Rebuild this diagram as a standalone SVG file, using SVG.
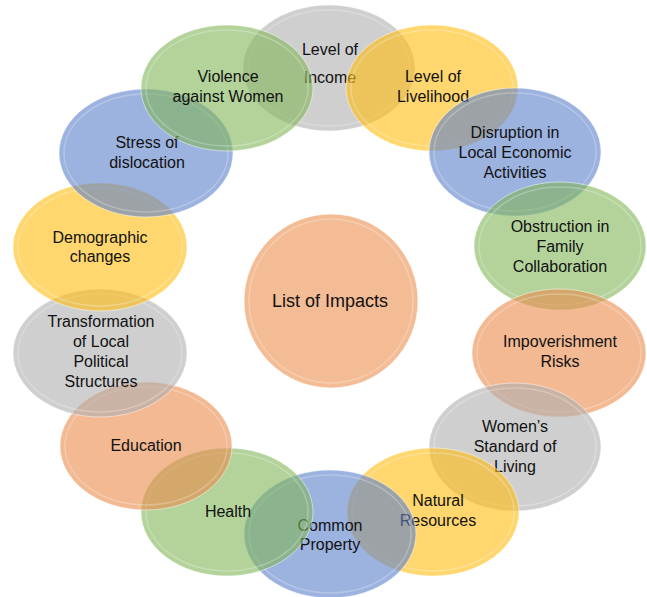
<svg xmlns="http://www.w3.org/2000/svg" width="647" height="597" viewBox="0 0 647 597">
<style>
  .e { fill-opacity: 0.6; stroke: #ffffff; stroke-opacity: 0.5; stroke-width: 1; }
  .hl { fill: none; stroke: #ffffff; stroke-opacity: 0.25; stroke-width: 1.5; }
  .gray { fill: #afafaf; }
  .yellow { fill: #ffbc0d; }
  .green { fill: #80b658; }
  .blue { fill: #5a7fca; }
  .orange { fill: #e98a4b; }
  text { font-family: "Liberation Sans", Arial, sans-serif; font-size: 16px; fill: #111111; text-anchor: middle; }
  .big { font-size: 18px; }
</style>
<rect width="647" height="597" fill="#ffffff"/>

<g id="center">
  <circle cx="331" cy="301" r="87" fill="#f3bc95" stroke="#ffffff" stroke-opacity="0.6" stroke-width="1"/>
  <circle cx="331" cy="301" r="82" class="hl"/>
  <text class="big" x="330" y="307">List of Impacts</text>
</g>

<g id="level-of-income">
  <ellipse class="e gray" cx="329" cy="68" rx="86" ry="63"/>
  <ellipse class="hl" cx="329" cy="68" rx="81" ry="58"/>
  <text x="330" y="55">Level of</text>
  <text x="330" y="83">Income</text>
</g>
<g id="level-of-livelihood">
  <ellipse class="e yellow" cx="432" cy="88" rx="86" ry="63"/>
  <ellipse class="hl" cx="432" cy="88" rx="81" ry="58"/>
  <text x="433" y="82">Level of</text>
  <text x="433" y="102">Livelihood</text>
</g>
<g id="disruption">
  <ellipse class="e blue" cx="515" cy="152" rx="86" ry="64"/>
  <ellipse class="hl" cx="515" cy="152" rx="81" ry="59"/>
  <text x="515" y="138">Disruption in</text>
  <text x="515" y="158">Local Economic</text>
  <text x="515" y="178">Activities</text>
</g>
<g id="obstruction">
  <ellipse class="e green" cx="560" cy="246" rx="86" ry="64"/>
  <ellipse class="hl" cx="560" cy="246" rx="81" ry="59"/>
  <text x="560" y="232">Obstruction in</text>
  <text x="560" y="252">Family</text>
  <text x="560" y="272">Collaboration</text>
</g>
<g id="impoverishment">
  <ellipse class="e orange" cx="559" cy="353" rx="87" ry="64"/>
  <ellipse class="hl" cx="559" cy="353" rx="82" ry="59"/>
  <text x="560" y="347">Impoverishment</text>
  <text x="560" y="367">Risks</text>
</g>
<g id="womens-standard">
  <ellipse class="e gray" cx="515" cy="447" rx="86" ry="64"/>
  <ellipse class="hl" cx="515" cy="447" rx="81" ry="59"/>
  <text x="515" y="432">Women’s</text>
  <text x="515" y="452">Standard of</text>
  <text x="515" y="472">Living</text>
</g>
<g id="natural-resources">
  <ellipse class="e yellow" cx="433" cy="512" rx="86" ry="64"/>
  <ellipse class="hl" cx="433" cy="512" rx="81" ry="59"/>
  <text x="438" y="506">Natural</text>
  <text x="438" y="526">Resources</text>
</g>
<g id="common-property">
  <ellipse class="e blue" cx="330" cy="534" rx="86" ry="64"/>
  <ellipse class="hl" cx="330" cy="534" rx="81" ry="59"/>
  <text x="330" y="531">Common</text>
  <text x="330" y="550">Property</text>
</g>
<g id="health">
  <ellipse class="e green" cx="227" cy="512" rx="86" ry="64"/>
  <ellipse class="hl" cx="227" cy="512" rx="81" ry="59"/>
  <text x="228" y="517">Health</text>
</g>
<g id="education">
  <ellipse class="e orange" cx="146" cy="446" rx="86" ry="64"/>
  <ellipse class="hl" cx="146" cy="446" rx="81" ry="59"/>
  <text x="146" y="451">Education</text>
</g>
<g id="transformation">
  <ellipse class="e gray" cx="100" cy="353" rx="87" ry="64"/>
  <ellipse class="hl" cx="100" cy="353" rx="82" ry="59"/>
  <text x="101" y="327">Transformation</text>
  <text x="101" y="347">of Local</text>
  <text x="101" y="367">Political</text>
  <text x="101" y="387">Structures</text>
</g>
<g id="demographic">
  <ellipse class="e yellow" cx="100" cy="247" rx="87" ry="64"/>
  <ellipse class="hl" cx="100" cy="247" rx="82" ry="59"/>
  <text x="100" y="243">Demographic</text>
  <text x="100" y="262">changes</text>
</g>
<g id="stress">
  <ellipse class="e blue" cx="146" cy="153" rx="87" ry="64"/>
  <ellipse class="hl" cx="146" cy="153" rx="82" ry="59"/>
  <text x="147" y="148">Stress of</text>
  <text x="147" y="168">dislocation</text>
</g>
<g id="violence">
  <ellipse class="e green" cx="227" cy="88" rx="86" ry="63"/>
  <ellipse class="hl" cx="227" cy="88" rx="81" ry="58"/>
  <text x="228" y="82">Violence</text>
  <text x="228" y="102">against Women</text>
</g>
</svg>
